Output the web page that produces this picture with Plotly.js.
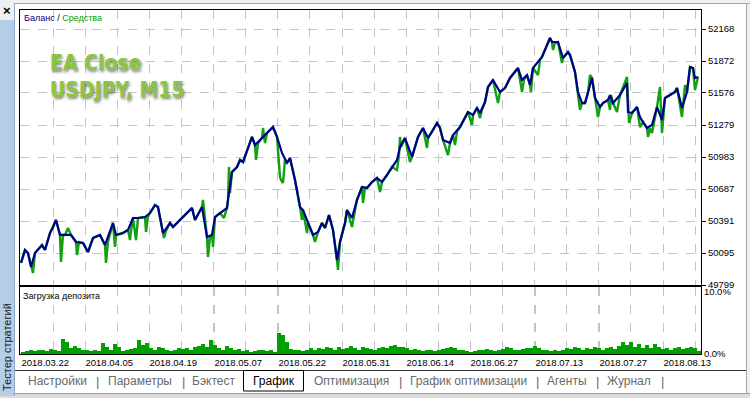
<!DOCTYPE html>
<html>
<head>
<meta charset="utf-8">
<script src="https://cdn.plot.ly/plotly-3.0.1.min.js"></script>
<style>
html,body{margin:0;padding:0;background:#f0f0f0;}
#chart{width:750px;height:398px;}
</style>
</head>
<body>
<div id="chart"></div>
<script>
// ---- Data ----
// Balance curve: trade number and balance value
const balTrade = [0,4,7,10,14,17,21,24,29,32,35,39,44,50,55,62,67,72,79,84,92,95,102,107,112,117,124,129,134,137,142,149,152,157,171,174,181,186,191,194,199,206,207,211,216,219,222,226,231,234,241,246,252,256,261,266,269,274,279,282,287,292,297,301,304,308,312,316,319,324,326,331,336,341,346,351,356,361,366,371,376,379,384,391,397,402,407,412,416,419,422,429,432,439,447,452,456,459,464,467,472,479,484,489,497,501,506,509,512,521,529,531,537,542,547,549,554,557,561,564,567,571,574,579,582,587,589,592,599,606,607,611,616,619,622,626,631,636,641,644,649,654,656,661,666,669,672,674,677];
const balValue = [50003,50123,50095,49966,50095,50123,50169,50123,50280,50336,50401,50262,50262,50262,50197,50188,50104,50234,50262,50169,50373,50262,50280,50308,50419,50419,50428,50465,50539,50521,50280,50373,50336,50382,50512,50401,50521,50243,50262,50428,50465,50512,50586,50845,50891,50956,50937,51048,51169,51095,51159,51206,51261,51169,51021,50928,50974,50771,50521,50493,50373,50262,50290,50373,50327,50447,50308,50030,50197,50373,50493,50419,50586,50706,50697,50752,50789,50752,50817,50891,50956,51076,51159,50984,51169,51252,51159,51233,51298,51252,51141,51113,51187,51261,51400,51372,51437,51391,51492,51631,51696,51585,51622,51715,51807,51696,51742,51650,51807,51909,52085,52048,52048,51900,51955,51927,51770,51585,51483,51483,51576,51715,51530,51446,51483,51511,51557,51483,51557,51668,51400,51391,51446,51354,51307,51252,51280,51446,51326,51530,51557,51585,51622,51437,51585,51816,51807,51715,51724];

// Equity curve: trade number and equity value (includes floating drawdowns)
const eqTrade = [0,4,7,10,12,14,17,21,24,29,32,35,39,40,42,44,47,50,55,56,58,62,67,72,79,84,85,87,92,94,95,102,107,109,110,112,115,117,124,125,127,129,134,137,142,143,145,149,152,157,171,174,181,182,186,187,189,191,192,194,199,203,206,207,208,209,211,216,219,222,226,231,234,235,237,241,242,244,246,252,256,259,260,262,264,266,269,274,279,281,282,286,287,292,294,297,301,304,308,312,316,317,319,324,326,331,333,336,341,342,344,346,351,356,359,361,366,371,376,378,379,380,384,389,391,397,402,406,407,412,416,419,422,427,429,432,434,436,439,447,451,452,456,459,461,464,467,472,477,479,484,489,497,501,503,506,509,510,512,517,519,521,529,531,532,534,537,541,542,547,549,554,557,559,561,564,567,569,571,574,577,579,582,587,589,590,592,596,599,606,608,611,616,619,622,626,627,629,631,636,639,641,644,649,654,656,661,664,666,669,672,674,677];
const eqValue = [50003,50123,50095,49966,49910,50095,50123,50169,50123,50280,50336,50401,50262,50012,50262,50262,50327,50262,50197,50077,50197,50188,50104,50234,50262,50169,50003,50200,50373,50151,50262,50280,50308,50215,50300,50419,50215,50419,50428,50290,50440,50465,50539,50521,50280,50234,50300,50373,50336,50382,50512,50401,50521,50586,50243,50058,50250,50262,50151,50428,50465,50419,50512,50586,50891,50650,50845,50891,50956,50937,51048,51169,51095,50956,51110,51159,51252,51113,51206,51261,51169,50798,50771,50743,50960,50928,50974,50771,50521,50401,50493,50280,50373,50262,50197,50290,50373,50327,50447,50308,50030,49938,50197,50373,50493,50336,50440,50586,50706,50558,50700,50697,50752,50789,50660,50752,50817,50891,50863,51000,51169,51076,51159,50937,50984,51169,51252,51067,51159,51233,51298,51252,51141,51002,51113,51187,51095,51220,51261,51400,51280,51372,51437,51344,51420,51492,51631,51696,51483,51585,51622,51715,51807,51585,51700,51742,51650,51585,51807,51742,51880,51909,52085,52048,51974,52040,52048,51853,51900,51955,51927,51770,51585,51419,51483,51483,51576,51742,51715,51530,51354,51446,51483,51511,51419,51557,51483,51400,51557,51724,51298,51391,51446,51261,51307,51252,51169,51250,51206,51446,51631,51206,51530,51557,51585,51622,51354,51650,51585,51816,51807,51604,51724];

// Deposit load (%), one bar per 4 trades
const loadValue = [
0.4,0.5,0.6,0.5,0.7,0.6,0.5,0.8,0.6,0.5,
2.4,1.9,1.0,1.3,0.9,0.7,0.6,0.5,0.6,0.5,
1.7,1.2,0.6,1.6,1.1,0.5,0.6,0.8,1.0,2.2,
1.4,1.8,1.0,0.7,1.2,0.9,0.6,0.5,0.7,0.9,
0.8,1.0,0.7,1.1,1.3,1.6,1.2,2.2,1.5,1.0,
0.7,1.3,0.9,0.6,0.8,0.5,0.6,0.4,0.5,0.6,
0.7,0.5,0.6,0.4,3.4,3.0,2.0,0.8,0.6,0.7,
0.5,0.6,0.9,0.7,1.0,0.8,1.1,0.9,0.7,1.2,
0.8,1.0,1.3,0.9,0.7,1.1,1.0,0.8,0.6,0.9,
1.2,1.0,1.3,1.4,1.1,1.2,0.9,0.7,0.8,0.6,
0.5,0.6,0.7,0.5,0.6,0.8,0.9,1.2,0.9,0.7,
0.6,0.5,0.4,0.5,0.6,0.7,0.8,0.6,0.5,0.6,
0.8,1.1,0.9,0.7,0.6,0.8,1.0,0.9,1.3,1.0,
0.7,0.6,0.5,0.6,0.5,0.7,0.9,0.8,1.1,0.9,
0.7,1.0,0.8,1.2,0.9,0.7,0.9,1.1,0.8,1.3,
2.0,1.5,1.9,1.2,1.6,1.0,1.4,0.9,1.6,1.1,
0.8,1.0,0.7,0.9,1.1,0.8,1.0,1.2,0.9,0.5];

// Tick labels
const balTickVals = [49799,50095,50391,50687,50983,51279,51576,51872,52168];
const balTickText = ['49799','50095','50391','50687','50983','51279','51576','51872','52168'];
const dateTrades = [0,64,128,193,257,321,385,449,514,578,642];
const dateLabels = ['2018.03.22','2018.04.05','2018.04.19','2018.05.07','2018.05.22','2018.05.31','2018.06.14','2018.06.27','2018.07.13','2018.07.27','2018.08.13'];
const loadTickVals = [0,10];
const loadTickText = ['0.0%','10.0%'];
const tabNames = ['Настройки','Параметры','Бэктест','График','Оптимизация','График оптимизации','Агенты','Журнал'];

// ---- Layout helpers (pixel -> paper) ----
const W = 750, H = 398;
const px = v => v / W;
const py = v => (H - v) / H;

const gridColor = '#c4c4c4';
const FONT = 'Liberation Sans, Arial, sans-serif';

const traces = [
  {x: eqTrade, y: eqValue, type: 'scatter', mode: 'lines', xaxis: 'x', yaxis: 'y',
   line: {color: '#10a010', width: 2.4}, hoverinfo: 'skip'},
  {x: balTrade, y: balValue, type: 'scatter', mode: 'lines', xaxis: 'x', yaxis: 'y',
   line: {color: '#00008b', width: 2.2}, hoverinfo: 'skip'},
  {y: loadValue, x0: 2, dx: 4, type: 'bar', xaxis: 'x2', yaxis: 'y2',
   marker: {color: '#00a000', line: {width: 0}}, width: 4, hoverinfo: 'skip'}
];

const tabX = [28,108,192,253,314,410,547,607];
const sepX = [98,183,400,537,597,662];

const annotations = [];
tabNames.forEach((t, i) => {
  annotations.push({xref: 'paper', yref: 'paper', x: px(tabX[i] - 2), y: py(381), xanchor: 'left', yanchor: 'middle',
    text: t, showarrow: false, font: {family: FONT, size: 12, color: i === 3 ? '#000000' : '#6a6a6a'}});
});
sepX.forEach(x => annotations.push({xref: 'paper', yref: 'paper', x: px(x), y: py(381), xanchor: 'center', yanchor: 'middle',
  text: '|', showarrow: false, font: {family: FONT, size: 13, color: '#6a6a6a'}}));

annotations.push(
  {xref: 'paper', yref: 'paper', x: px(22), y: py(18), xanchor: 'left', yanchor: 'middle', showarrow: false,
   text: '<span style="color:#00008b">Баланс</span> / <span style="color:#00a000">Средства</span>',
   font: {family: FONT, size: 9, color: '#000'}},
  {xref: 'paper', yref: 'paper', x: px(21), y: py(296), xanchor: 'left', yanchor: 'middle', showarrow: false,
   text: 'Загрузка депозита', font: {family: FONT, size: 9, color: '#000'}},
  {xref: 'paper', yref: 'paper', x: px(48), y: py(76), xanchor: 'left', yanchor: 'middle', showarrow: false, align: 'left',
   text: '<b>EA Close</b><br><b>USDJPY, M15</b>',
   font: {family: 'DejaVu Sans Condensed, sans-serif', size: 21, color: '#8cc63f',
          shadow: '1px 2px 3px rgba(0,0,0,0.5)'}},
  {xref: 'paper', yref: 'paper', x: px(7), y: py(347), xanchor: 'center', yanchor: 'middle', showarrow: false, textangle: -90,
   text: 'Тестер стратегий', font: {family: FONT, size: 11, color: '#1a1a1a'}},
  {xref: 'paper', yref: 'paper', x: px(7), y: py(10), xanchor: 'center', yanchor: 'middle', showarrow: false,
   text: '<b>×</b>', font: {family: FONT, size: 13, color: '#000'}}
);

const shapes = [
  {type: 'rect', xref: 'paper', yref: 'paper', x0: px(15), x1: px(746), y0: py(393), y1: py(4), fillcolor: '#ffffff', line: {width: 0}, layer: 'below'},
  {type: 'rect', xref: 'paper', yref: 'paper', x0: px(0), x1: px(750), y0: py(398), y1: py(393), fillcolor: '#dcdcdc', line: {width: 0}, layer: 'below'},
  {type: 'line', xref: 'paper', yref: 'paper', x0: px(14), x1: px(750), y0: py(393.5), y1: py(393.5), line: {color: '#a0a0a0', width: 1}, layer: 'below'},
  {type: 'line', xref: 'paper', yref: 'paper', x0: px(746.5), x1: px(746.5), y0: py(394), y1: py(3), line: {color: '#a8a8a8', width: 1}, layer: 'below'},
  {type: 'line', xref: 'paper', yref: 'paper', x0: px(14), x1: px(750), y0: py(3.5), y1: py(3.5), line: {color: '#a8a8a8', width: 1}, layer: 'below'},
  {type: 'rect', xref: 'paper', yref: 'paper', x0: px(0), x1: px(14), y0: py(396), y1: py(20), fillcolor: '#b6cde8', line: {width: 0}, layer: 'below'},
  {type: 'line', xref: 'paper', yref: 'paper', x0: px(14.5), x1: px(14.5), y0: py(396), y1: py(4), line: {color: '#8ea8c8', width: 1}, layer: 'below'},
  {type: 'line', xref: 'paper', yref: 'paper', x0: px(15), x1: px(746), y0: py(370.5), y1: py(370.5), line: {color: '#333333', width: 1}, layer: 'below'},
  {type: 'rect', xref: 'paper', yref: 'paper', x0: px(243.5), x1: px(303.5), y0: py(391), y1: py(370.5), fillcolor: '#ffffff', line: {color: '#000000', width: 1}, layer: 'below'}
];

const layout = {
  width: W, height: H,
  margin: {l: 0, r: 0, t: 0, b: 0, pad: 0},
  paper_bgcolor: '#f0f0f0',
  plot_bgcolor: 'rgba(0,0,0,0)',
  showlegend: false,
  bargap: 0,
  font: {family: FONT, size: 9, color: '#000'},
  xaxis: {domain: [px(20), px(701)], range: [-1, 680], anchor: 'y',
    showticklabels: false, ticks: '', tick0: 0, dtick: 32.1,
    showgrid: true, griddash: 'dash', gridcolor: gridColor, gridwidth: 1,
    zeroline: false, showline: true, mirror: true, linecolor: '#000', linewidth: 1},
  yaxis: {domain: [py(285), py(10)], range: [49799, 52344], anchor: 'x', side: 'right',
    tickmode: 'array', tickvals: balTickVals, ticktext: balTickText,
    ticks: 'outside', ticklen: 4, tickcolor: '#000', tickfont: {family: FONT, size: 9.5, color: '#000'},
    showgrid: true, griddash: 'dash', gridcolor: gridColor, gridwidth: 1,
    zeroline: false, showline: true, mirror: true, linecolor: '#000', linewidth: 1},
  xaxis2: {domain: [px(20), px(701)], range: [-1, 680], anchor: 'y2',
    tickmode: 'array', tickvals: dateTrades, ticktext: dateLabels, ticklabelposition: 'outside right',
    ticks: '', tickfont: {family: FONT, size: 9.5, color: '#000'},
    showgrid: true, griddash: 'dash', gridcolor: gridColor, gridwidth: 1,
    minor: {tick0: 0, dtick: 32.1, showgrid: true, griddash: 'dash', gridcolor: gridColor, gridwidth: 1, ticks: ''},
    zeroline: false, showline: true, mirror: true, linecolor: '#000', linewidth: 1},
  yaxis2: {domain: [py(354), py(287)], range: [0, 10.8], anchor: 'x2', side: 'right',
    tickmode: 'array', tickvals: loadTickVals, ticktext: loadTickText,
    ticks: '', tickfont: {family: FONT, size: 9.5, color: '#000'},
    showgrid: false, zeroline: false, showline: true, mirror: true, linecolor: '#000', linewidth: 1},
  annotations: annotations,
  shapes: shapes
};

Plotly.newPlot('chart', traces, layout, {staticPlot: true, displayModeBar: false});
</script>
</body>
</html>
